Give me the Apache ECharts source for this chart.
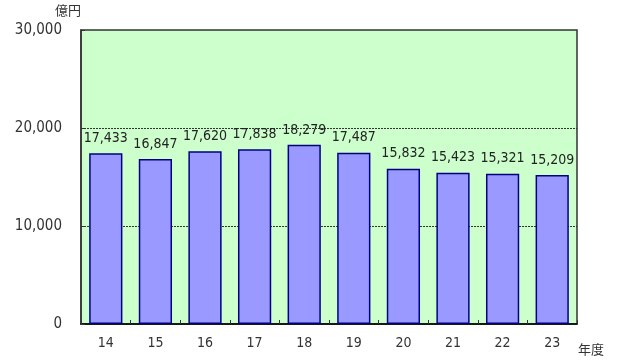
<!DOCTYPE html>
<html><head><meta charset="utf-8">
<script src="https://cdn.jsdelivr.net/npm/echarts@6/dist/echarts.min.js"></script>
<style>html,body{margin:0;padding:0;background:#fff}#c{width:620px;height:363px}</style>
</head><body><div id="c"></div>
<script>
const categories = ['14','15','16','17','18','19','20','21','22','23'];
const values = [17433,16847,17620,17838,18279,17487,15832,15423,15321,15209];
const yTicks = [0,10000,20000,30000];
const font = '"DejaVu Sans","Noto Sans CJK JP",sans-serif';
const narrow = '"DejaVu Sans Condensed","Liberation Sans Narrow","DejaVu Sans Mono",monospace';
const chart = echarts.init(document.getElementById('c'));
chart.setOption({
  animation:false,
  grid:{left:81,right:43,top:30,bottom:39,show:true,backgroundColor:'#CCFFCC',borderColor:'#333',borderWidth:1.5},
  graphic:[
    {type:'text',left:55,top:5,style:{text:'億円',font:'13px '+font,fill:'#333'}},
    {type:'text',left:578,top:344,style:{text:'年度',font:'13px '+font,fill:'#333'}}
  ],
  xAxis:{type:'category',data:categories,
    axisLine:{lineStyle:{color:'#000',width:1.5}},
    axisTick:{show:true,inside:true,length:4,lineStyle:{color:'#333'}},
    axisLabel:{color:'#333',fontSize:14,fontFamily:narrow,margin:12}},
  yAxis:{type:'value',min:0,max:30000,interval:10000,
    axisLine:{show:true,lineStyle:{color:'#333',width:1.5}},
    axisTick:{show:true,inside:true,length:4,lineStyle:{color:'#333'}},
    axisLabel:{color:'#333',fontSize:15,fontFamily:narrow,margin:19,
      formatter:v=>yTicks.includes(v)?v.toLocaleString('en-US'):''},
    splitLine:{show:true,showMinLine:false,showMaxLine:false,lineStyle:{color:'#333',type:[2,1],width:1}}},
  series:[{type:'bar',data:values,barWidth:'67%',
    itemStyle:{color:'#9999FF',borderColor:'#000080',borderWidth:1.5},
    label:{show:true,position:'top',distance:8,color:'#222',fontSize:14,fontFamily:narrow,
      formatter:p=>p.value.toLocaleString('en-US')}}]
});
</script></body></html>
